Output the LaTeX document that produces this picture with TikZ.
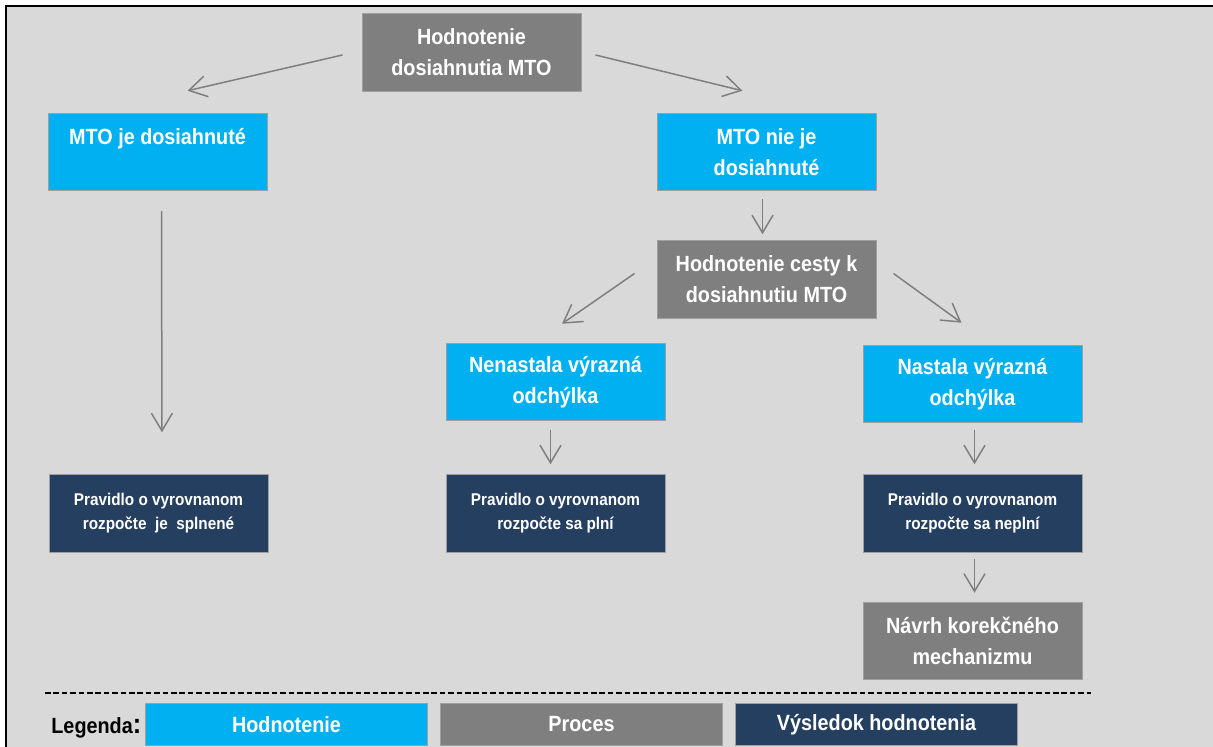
\documentclass[tikz,border=0pt]{standalone}
\usepackage{fontspec}
\setmainfont{Liberation Sans}[FakeStretch=0.9]
\usetikzlibrary{positioning, arrows.meta}

\definecolor{hodncyan}{HTML}{00B0F0}
\definecolor{procgray}{HTML}{7F7F7F}
\definecolor{vysnavy}{HTML}{243F60}
\definecolor{pozadie}{HTML}{D9D9D9}

\begin{document}
\begin{tikzpicture}[
    x=0.5pt, y=-0.5pt,
    >={Straight Barb[length=8.8pt, width=10.5pt]},
    % Styles for the three kinds of boxes
    box/.style={rectangle, draw=gray!75, line width=0.5pt, minimum width=109.5pt, minimum height=38.75pt, inner sep=2pt, text=white, font=\fontsize{11}{15.5}\selectfont\bfseries, align=center},
    hodnotenie/.style={box, fill=hodncyan},
    proces/.style={box, fill=procgray},
    vysledok/.style={box, fill=vysnavy, font=\fontsize{8.5}{12}\selectfont\bfseries},
    legenda/.style={minimum width=141pt, minimum height=21pt, font=\fontsize{11}{13}\selectfont\bfseries},
    spoj/.style={->, draw=procgray, line width=0.75pt}
]

  % --- FRAME ---
  \useasboundingbox (0,0) rectangle (1213,747);
  \fill[white] (0,0) rectangle (1213,747);
  \fill[pozadie] (6,6) rectangle (1213,747);
  \draw[line width=1pt] (6,747) -- (6,6) -- (1213,6);

  % --- LEVEL 0: ROOT ---
  \node[proces] (hodn) at (471.5,52.5) {Hodnotenie\\dosiahnutia MTO};

  % --- LEVEL 1 ---
  \node[hodnotenie, below left=10.5pt and 47pt of hodn] (jedos) {MTO je dosiahnuté\\\phantom{d}};
  \node[hodnotenie, below right=10.5pt and 37.5pt of hodn] (niedos) {MTO nie je\\dosiahnuté};

  % --- LEVEL 2 ---
  \node[proces, below=24.5pt of niedos] (cesta) {Hodnotenie cesty k\\dosiahnutiu MTO};
  \node[hodnotenie, below=12pt of cesta, xshift=-105.5pt] (nenast) {Nenastala výrazná\\odchýlka};
  \node[hodnotenie, below=13pt of cesta, xshift=103pt] (nast) {Nastala výrazná\\odchýlka};

  % --- LEVEL 3: RESULTS ---
  \node[vysledok, below=26.5pt of nenast] (plni) {Pravidlo o vyrovnanom\\rozpočte sa plní};
  \node[vysledok, below=25.5pt of nast] (neplni) {Pravidlo o vyrovnanom\\rozpočte sa neplní};
  \node[vysledok, left=88.5pt of plni] (splnene) {Pravidlo o vyrovnanom\\rozpočte~ je~ splnené};
  \node[proces, below=24.5pt of neplni] (navrh) {Návrh korekčného\\mechanizmu};

  % --- EDGES ---
  \draw[spoj] ([shift={(-9.5pt,-1.25pt)}]hodn.west) -- ([shift={(15pt,11pt)}]jedos.north);
  \draw[spoj] ([shift={(7pt,-1.25pt)}]hodn.east) -- ([shift={(-12pt,11pt)}]niedos.north);
  \draw[spoj, shorten <=10pt, shorten >=21pt] ([xshift=2pt]jedos.south) -- ([xshift=1.75pt]splnene.north);
  \draw[spoj, shorten <=4pt, shorten >=3pt] ([xshift=-2pt]niedos.south) -- ([xshift=-2pt]cesta.north);
  \draw[spoj] ([shift={(-11pt,3pt)}]cesta.west) -- ([shift={(3.25pt,9.5pt)}]nenast.north);
  \draw[spoj] ([shift={(8.5pt,3pt)}]cesta.east) -- ([shift={(-5.5pt,11pt)}]nast.north);
  \draw[spoj, shorten <=4.5pt, shorten >=5pt] ([xshift=-2.5pt]nenast.south) -- ([xshift=-2.5pt]plni.north);
  \draw[spoj, shorten <=3.5pt, shorten >=5pt] ([xshift=1pt]nast.south) -- ([xshift=1pt]neplni.north);
  \draw[spoj, shorten <=3pt, shorten >=4.5pt] ([xshift=1pt]neplni.south) -- ([xshift=1pt]navrh.north);

  % --- LEGEND ---
  \draw[line width=0.7pt, dash pattern=on 2.8pt off 1.4pt] (45,693) -- (1091,693);
  \node[font=\fontsize{11}{13}\selectfont\bfseries, anchor=base west, inner sep=0pt] (leglabel) at (51,733) {Legenda{\fontsize{14}{14}\selectfont:}};
  \node[hodnotenie, legenda, anchor=north west] (leg1) at (145,703) {Hodnotenie};
  \node[proces, legenda, right=6pt of leg1] (leg2) {Proces};
  \node[box, legenda, fill=vysnavy, right=6pt of leg2] (leg3) {Výsledok hodnotenia};

\end{tikzpicture}
\end{document}
